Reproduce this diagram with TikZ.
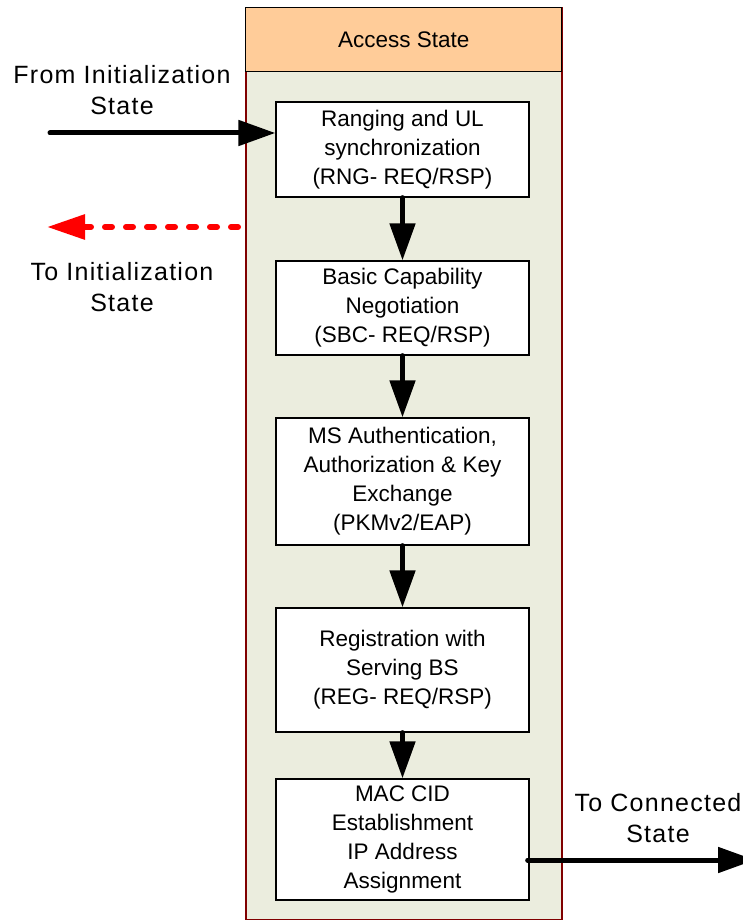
\documentclass[tikz,border=0pt]{standalone}
\usepackage{fontspec}
\setmainfont{Liberation Sans}
\newfontfamily\outerfont[LetterSpace=5]{Liberation Sans}
\usetikzlibrary{arrows.meta}
\definecolor{hdrfill}{HTML}{FFCC99}
\definecolor{bodyfill}{HTML}{EBEDDE}
\definecolor{framecol}{HTML}{800000}
\tikzset{
  stepbox/.style={draw=black, line width=1.3pt, fill=white, minimum width=253pt,
    align=center, inner sep=0pt, font=\fontsize{22.5}{29}\selectfont},
  flow/.style={line width=5pt, line cap=round, -{Triangle[length=37pt,width=25pt]}},
  backflow/.style={red, line width=6pt, line cap=round, dash pattern=on 7pt off 14pt,
    -{Triangle[length=38pt,width=24pt]}},
  outerlbl/.style={align=center, inner sep=0pt, font=\outerfont\fontsize{25}{31}\selectfont},
}
\begin{document}
\begin{tikzpicture}[x=1pt,y=-1pt]
\useasboundingbox (0,0) rectangle (743,920);
\fill[white] (0,0) rectangle (743,920);
% container
\node[draw=framecol, fill=bodyfill, line width=2pt, minimum width=316pt, minimum height=912pt,
  anchor=north west, inner sep=0pt] (cont) at (245,7) {};
\node[draw=black, fill=hdrfill, line width=1.3pt, minimum width=316pt, minimum height=64pt,
  anchor=north west, inner sep=0pt, font=\fontsize{22.5}{29}\selectfont] (hdr) at (245,7) {Access State};
% steps
\node[stepbox, minimum height=95pt] (b1) at (402.5,149.5) {Ranging and UL\\synchronization\\(RNG- REQ/RSP)};
\node[stepbox, minimum height=94pt] (b2) at (402.5,308) {Basic Capability\\Negotiation\\(SBC- REQ/RSP)};
\node[stepbox, minimum height=127pt] (b3) at (402.5,481.5) {MS Authentication,\\Authorization \& Key\\Exchange\\(PKMv2/EAP)};
\node[stepbox, minimum height=124pt] (b4) at (402.5,670) {Registration with\\Serving BS\\(REG- REQ/RSP)};
\node[stepbox, minimum height=121pt] (b5) at (402.5,839.5) {MAC CID\\Establishment\\IP Address\\Assignment};
% flow arrows
\draw[flow] (b1.south) -- (b2.north);
\draw[flow] (b2.south) -- (b3.north);
\draw[flow] (b3.south) -- (b4.north);
\draw[flow] (b4.south) -- (b5.north);
% incoming / outgoing
\coordinate (fromL) at (50,133);
\draw[flow] (fromL) -- (fromL -| b1.west);
\coordinate (redS) at (238,227);
\coordinate (redE) at (47,227);
\draw[backflow] (redS) -- (redE);
\coordinate (toC) at (755,860);
\draw[flow] ([xshift=-2pt]b5.east |- toC) -- (toC);
% labels
\node[outerlbl] (lblFrom) at (122,90) {From Initialization\\State};
\node[outerlbl] (lblToI) at (122,287) {To Initialization\\State};
\node[outerlbl] (lblToC) at (658,818) {To Connected\\State};
\end{tikzpicture}
\end{document}
